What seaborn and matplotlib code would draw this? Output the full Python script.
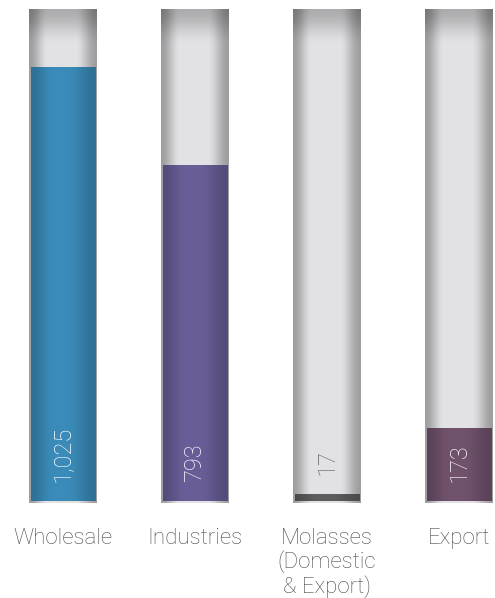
import numpy as np
import matplotlib
matplotlib.use("Agg")
import matplotlib.pyplot as plt
import matplotlib.colors as mcolors
import pandas as pd
import seaborn as sns

categories = ["Wholesale", "Industries", "Molasses\n(Domestic\n& Export)", "Export"]
values = [1025, 793, 17, 173]
value_labels = ["1,025", "793", "17", "173"]
bar_colors = ["#3886b2", "#665a92", "#5a5a5a", "#6c4f69"]
tube_max = 1162

sns.set_theme(style="white")
plt.rcParams["font.family"] = ["Roboto", "DejaVu Sans"]

df = pd.DataFrame({"cat": categories, "value": values})

fig = plt.figure(figsize=(4.95, 5.98), dpi=100)
ax = fig.add_axes([0, 0, 1, 1])

# background tubes
tubes = ax.bar(range(len(categories)), [tube_max + 5] * len(categories), bottom=-5,
               width=0.515, color="#d8d8d8", linewidth=0, zorder=1)

# value bars
sns.barplot(data=df, x="cat", y="value", hue="cat", palette=bar_colors,
            width=0.485, legend=False, ax=ax, zorder=2, linewidth=0, saturation=1)

ax.axis("off")


def smooth(t):
    t = np.clip(t, 0, 1)
    return t * t * (3 - 2 * t)


# tube shading: dark edges, light centre, darker top
xs = np.linspace(0, 1, 200)
h = 0.62 + 0.27 * smooth(xs / 0.28) * smooth((1 - xs) / 0.32)
ys = np.linspace(0, 1, 500)
v = 0.76 + 0.24 * smooth(ys / 0.075)
gray = np.outer(v, h)
tube_img = np.clip(np.dstack([gray, gray, gray * 1.01]), 0, 1)

for p in tubes.patches:
    x0, y0 = p.get_x(), p.get_y()
    im = ax.imshow(tube_img, extent=(x0, x0 + p.get_width(), y0, y0 + p.get_height()),
                   aspect="auto", origin="upper", zorder=1.5, interpolation="bilinear")
    im.set_clip_path(p)

# bar shading
m = 0.84 + 0.2 * smooth(xs / 0.35) - 0.2 * smooth((xs - 0.55) / 0.45)
for p, col in zip(ax.patches[len(categories):], bar_colors):
    rgb = np.array(mcolors.to_rgb(col))
    img = np.clip(m[None, :, None] * rgb[None, None, :], 0, 1)
    x0, y0 = p.get_x(), p.get_y()
    im = ax.imshow(img, extent=(x0, x0 + p.get_width(), y0, y0 + p.get_height()),
                   aspect="auto", zorder=2.5, interpolation="bilinear")
    im.set_clip_path(p)

ax.set_xlim(-63 / 132, (495 - 63) / 132)
ax.set_ylim(-229, 1183)

# value labels
for i, (val, lab) in enumerate(zip(values, value_labels)):
    inside = val > 100
    y = 44 if inside else val + 44
    ax.text(i, y, lab, rotation=90, ha="center", va="bottom",
            color="white" if inside else "#606060", fontsize=17,
            fontweight="light", zorder=4)

# category labels
for i, cat in enumerate(categories):
    ax.text(i, -63, cat, ha="center", va="top", color="#4c4c4c",
            fontsize=16, fontweight="light", linespacing=1.1, zorder=4)

fig.savefig("out.png", dpi=100)
